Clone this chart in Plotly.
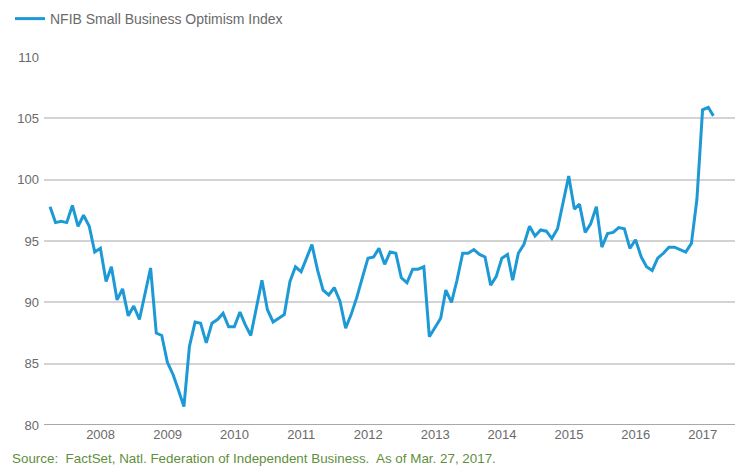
import pandas as pd
import plotly.graph_objects as go

# NFIB Small Business Optimism Index, monthly, Mar 2007 - Feb 2017
v2007 = [97.8, 96.5, 96.6, 96.5, 97.9, 96.2, 97.1, 96.2, 94.1, 94.4]  # Mar-Dec
v2008 = [91.7, 92.9, 90.2, 91.1, 88.9, 89.7, 88.6, 90.7, 92.8, 87.5, 87.3, 85.1]
v2009 = [84.1, 82.9, 81.5, 86.4, 88.4, 88.3, 86.7, 88.3, 88.6, 89.1, 88.0, 88.0]
v2010 = [89.2, 88.2, 87.3, 89.5, 91.8, 89.4, 88.4, 88.7, 89.0, 91.7, 92.9, 92.5]
v2011 = [93.6, 94.7, 92.6, 91.0, 90.6, 91.2, 90.1, 87.9, 89.0, 90.4, 92.0, 93.6]
v2012 = [93.7, 94.4, 93.1, 94.1, 94.0, 92.0, 91.6, 92.7, 92.7, 92.9, 87.2, 88.0]
v2013 = [88.7, 91.0, 90.0, 91.8, 94.0, 94.0, 94.3, 93.9, 93.7, 91.4, 92.1, 93.6]
v2014 = [93.9, 91.8, 94.0, 94.7, 96.2, 95.4, 95.9, 95.8, 95.2, 96.0, 98.1, 100.3]
v2015 = [97.6, 98.0, 95.7, 96.4, 97.8, 94.5, 95.6, 95.7, 96.1, 96.0, 94.4, 95.1]
v2016 = [93.7, 92.9, 92.6, 93.6, 94.0, 94.5, 94.5, 94.3, 94.1, 94.8, 98.4, 105.7]
v2017 = [105.9, 105.2]  # Jan-Feb

values = v2007 + v2008 + v2009 + v2010 + v2011 + v2012 + v2013 + v2014 + v2015 + v2016 + v2017
months = pd.date_range("2007-03-31", periods=len(values), freq="ME")

year_labels = ["2008", "2009", "2010", "2011", "2012", "2013", "2014", "2015", "2016", "2017"]
year_ticks = [f"{y}-01-01" for y in year_labels]
y_ticks = [80, 85, 90, 95, 100, 105, 110]

series_name = "NFIB Small Business Optimism Index"
source_text = "Source:  FactSet, Natl. Federation of Independent Business.  As of Mar. 27, 2017."

W, H = 743, 466
ML, MR, MT, MB = 44, 8, 57, 41
PW, PH = W - ML - MR, H - MT - MB

fig = go.Figure()
fig.add_trace(go.Scatter(
    x=months, y=values, mode="lines", name=series_name,
    line=dict(color="#1d9ad6", width=3),
))

fig.update_layout(
    width=W, height=H,
    margin=dict(l=ML, r=MR, t=MT, b=MB, autoexpand=False),
    paper_bgcolor="white", plot_bgcolor="white",
    font=dict(family="Liberation Sans, Arial, sans-serif", color="#6a6a6a", size=13),
    showlegend=True,
    legend=dict(
        xref="container", yref="container",
        x=10 / W, y=1 - 19 / H, xanchor="left", yanchor="middle",
        font=dict(size=14, color="#6a6a6a"),
        bgcolor="rgba(0,0,0,0)", itemclick=False,
    ),
    xaxis=dict(
        range=["2007-02-26", "2017-06-26"],
        tickmode="array", tickvals=year_ticks, ticktext=year_labels,
        showgrid=False, zeroline=False,
        showline=False, ticks="",
        tickfont=dict(size=13, color="#6a6a6a"),
    ),
    yaxis=dict(
        range=[80, 110],
        tickmode="array", tickvals=y_ticks,
        showgrid=True, gridcolor="#d3d3d3", gridwidth=1.5,
        zeroline=False, showline=False, ticks="",
        ticklabelstandoff=4,
        tickfont=dict(size=13, color="#6a6a6a"),
    ),
    annotations=[dict(
        text=source_text, xref="paper", yref="paper",
        x=(10 - ML) / PW, y=(H - MB - 458) / PH,
        xanchor="left", yanchor="middle", showarrow=False,
        font=dict(size=13.4, color="#5f8f3c", family="Liberation Sans, Arial"),
    )],
    shapes=[dict(
        type="line", xref="paper", yref="y", x0=0, x1=1, y0=80, y1=80,
        line=dict(color="#a8a8a8", width=2), layer="below",
    )],
)

fig.write_html("out.html")
